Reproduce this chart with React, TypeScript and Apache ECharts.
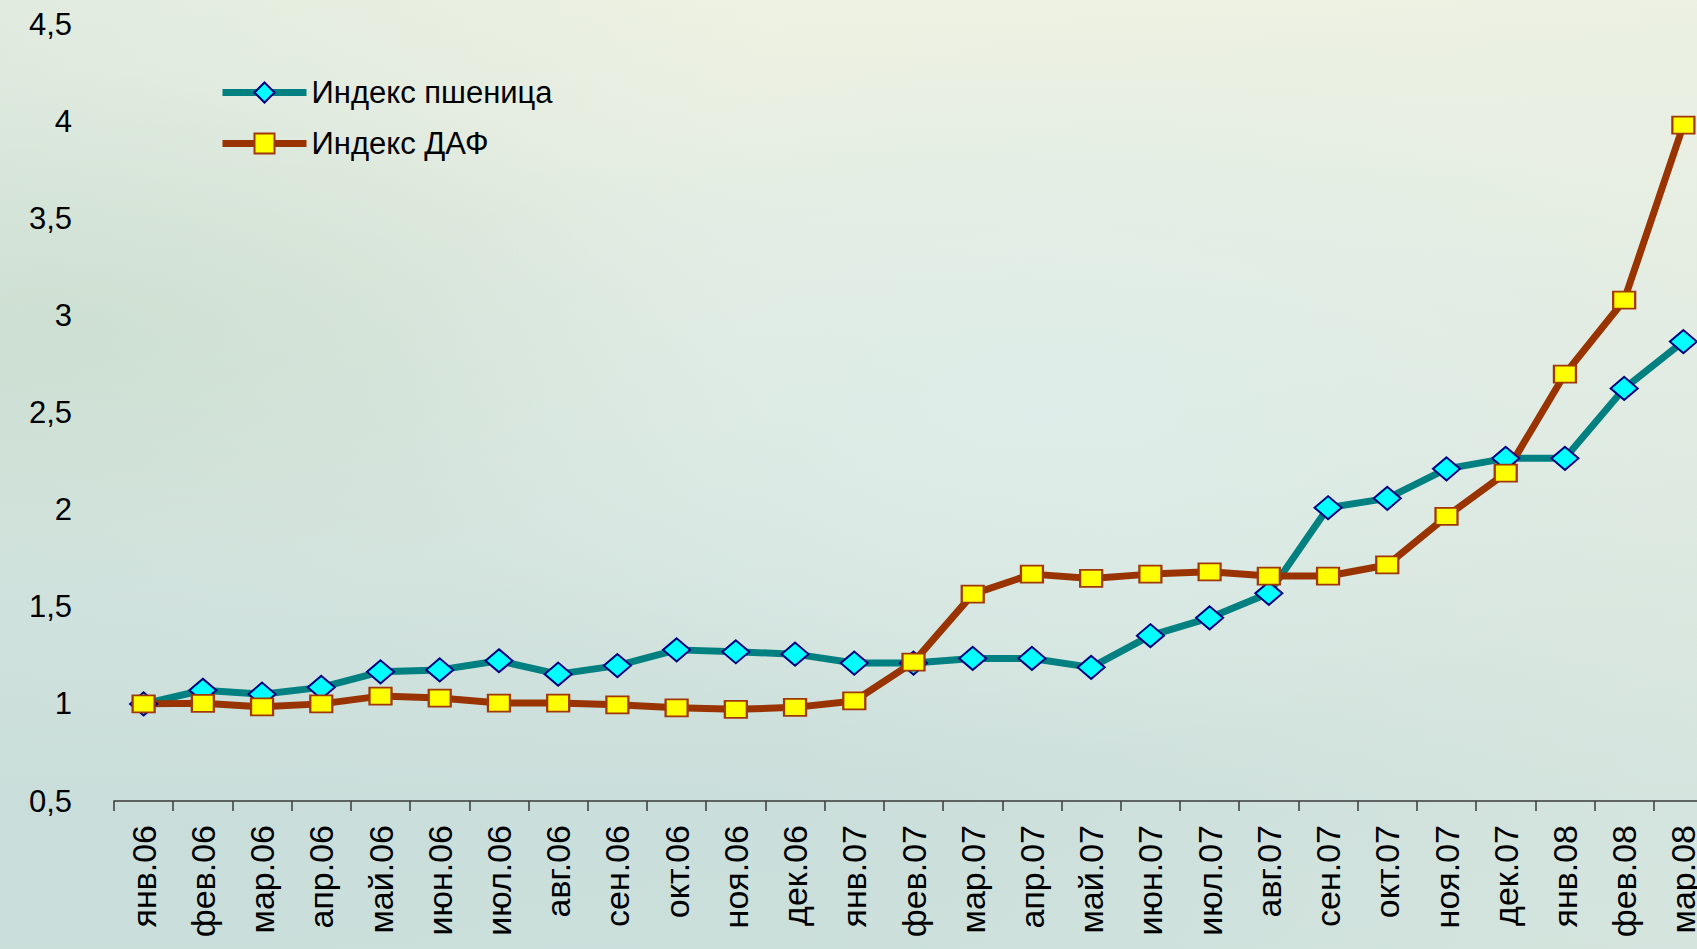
import React, { useEffect, useRef } from "react";
import * as echarts from "echarts";

const categories = [
  "янв.06", "фев.06", "мар.06", "апр.06", "май.06", "июн.06", "июл.06", "авг.06", "сен.06",
  "окт.06", "ноя.06", "дек.06", "янв.07", "фев.07", "мар.07", "апр.07", "май.07", "июн.07",
  "июл.07", "авг.07", "сен.07", "окт.07", "ноя.07", "дек.07", "янв.08", "фев.08", "мар.08",
];

const wheatIndex = [
  1.0, 1.07, 1.05, 1.085, 1.165, 1.175, 1.222, 1.153, 1.197, 1.278, 1.268, 1.256, 1.21, 1.21,
  1.234, 1.234, 1.188, 1.351, 1.443, 1.569, 2.01, 2.058, 2.21, 2.264, 2.264, 2.624, 2.865,
];

const dapIndex = [
  1.0, 1.003, 0.985, 1.0, 1.04, 1.03, 1.004, 1.004, 0.995, 0.98, 0.972, 0.982, 1.015, 1.215,
  1.565, 1.668, 1.646, 1.668, 1.68, 1.658, 1.658, 1.715, 1.965, 2.188, 2.698, 3.078, 3.98,
];

const seriesNames = ["Индекс пшеница", "Индекс ДАФ"];

const FONT = "'Liberation Sans', Arial, sans-serif";

export default function App() {
  const ref = useRef<HTMLDivElement>(null);

  useEffect(() => {
    if (!ref.current) return;
    const chart = echarts.init(ref.current, undefined, { renderer: "svg" });
    chart.setOption({
      animation: false,
      backgroundColor: "transparent",
      textStyle: { fontFamily: FONT },
      grid: {
        left: 114,
        width: 1599,
        top: 24,
        height: 777,
        containLabel: false,
        outerBoundsMode: "none",
      },
      legend: {
        orient: "vertical",
        left: 214,
        top: 72,
        itemWidth: 84,
        itemHeight: 25,
        itemGap: 20,
        lineStyle: { width: 7 },
        textStyle: { fontSize: 31, color: "#000", fontFamily: FONT },
        data: seriesNames,
      },
      xAxis: {
        type: "category",
        data: categories,
        boundaryGap: true,
        axisLine: { show: true, lineStyle: { color: "#3a3a3a", width: 1.5 } },
        axisTick: { show: true, length: 10, alignWithLabel: false, lineStyle: { color: "#3a3a3a", width: 1.5 } },
        axisLabel: {
          rotate: 90,
          interval: 0,
          fontSize: 34,
          color: "#000",
          margin: 24,
          fontFamily: FONT,
        },
        splitLine: { show: false },
      },
      yAxis: {
        type: "value",
        min: 0.5,
        max: 4.5,
        interval: 0.5,
        axisLine: { show: false },
        axisTick: { show: false },
        splitLine: { show: false },
        axisLabel: {
          fontSize: 31,
          color: "#000",
          margin: 42,
          fontFamily: FONT,
          formatter: (v: number) => String(v).replace(".", ","),
        },
      },
      series: [
        {
          name: seriesNames[0],
          type: "line",
          data: wheatIndex,
          symbol: "diamond",
          symbolSize: [27, 23],
          lineStyle: { color: "#008080", width: 7 },
          itemStyle: { color: "#00ffff", borderColor: "#000080", borderWidth: 2 },
          emphasis: { disabled: true },
        },
        {
          name: seriesNames[1],
          type: "line",
          data: dapIndex,
          symbol: "rect",
          symbolSize: [22, 17],
          lineStyle: { color: "#993300", width: 7 },
          itemStyle: { color: "#ffff00", borderColor: "#a0380a", borderWidth: 2 },
          emphasis: { disabled: true },
        },
      ],
    });
    return () => chart.dispose();
  }, []);

  return (
    <div
      style={{
        position: "fixed",
        left: 0,
        top: 0,
        width: 1697,
        height: 949,
        overflow: "hidden",
        background:
          "radial-gradient(ellipse at 62% 42%, rgba(222,238,234,0.85) 0%, rgba(222,238,234,0) 45%)," +
          "radial-gradient(ellipse at 3% 35%, rgba(196,218,200,0.55) 0%, rgba(196,218,200,0) 30%)," +
          "linear-gradient(90deg, rgba(200,222,218,0.35) 0%, rgba(200,222,218,0) 45%, rgba(232,240,228,0.35) 100%)," +
          "linear-gradient(180deg, #eef2e2 0%, #e4ece2 28%, #d6e5df 58%, #cadedb 85%, #cbdfdb 100%)",
      }}
    >
      <div ref={ref} style={{ width: 1697, height: 949 }} />
    </div>
  );
}
